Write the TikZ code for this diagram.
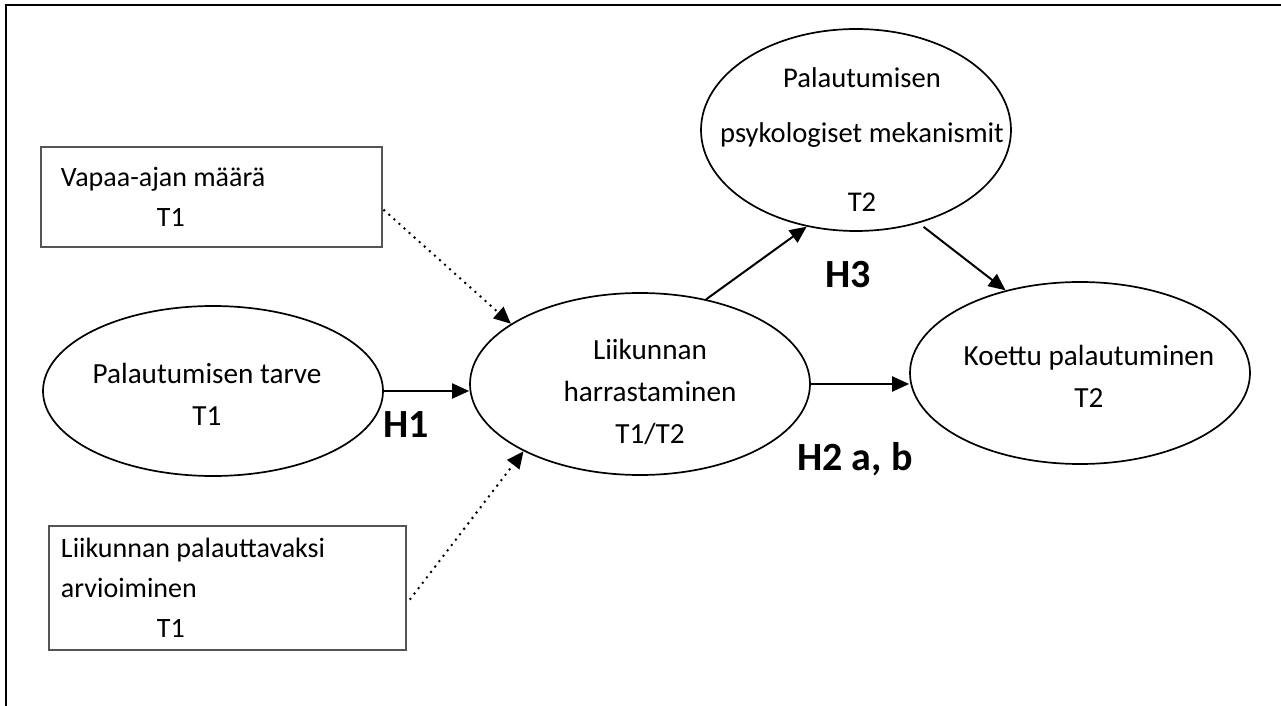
\documentclass[tikz,border=0pt]{standalone}
\usepackage{fontspec}
\setmainfont{Carlito}
\usepackage{xcolor}
\usepackage{tikz}
\usetikzlibrary{shapes.geometric, arrows.meta}
\definecolor{boxgray}{RGB}{85,85,85}

\begin{document}
\begin{tikzpicture}[x=0.5pt, y=-0.5pt,
  construct/.style={draw, ellipse, line width=0.85pt, inner sep=0pt, minimum width=170pt, minimum height=91pt},
  caption/.style={align=center, inner sep=0pt, font=\fontsize{14.6}{21}\selectfont},
  measure/.style={draw=boxgray, rectangle, line width=0.7pt, align=flush left, inner ysep=0pt, font=\fontsize{14}{20}\selectfont},
  effect/.style={-{Triangle[length=8.5pt,width=7.5pt]}, line width=1pt},
  moderator/.style={effect, line width=1.4pt, line cap=round, dash pattern=on 0pt off 3.4pt},
  hypo/.style={font=\fontsize{20}{24}\selectfont\bfseries, inner sep=0pt, anchor=base west}]
\useasboundingbox (0,0) rectangle (1281,706);
\draw[line width=1pt] (6,706) -- (6,5) -- (1281,5);

% measured variables
\node[measure, text width=150.5pt, inner xsep=10pt, minimum height=50pt] (vapaa) at (211.5,197) {Vapaa-ajan määrä\\\hspace*{48pt}T1};
\node[measure, text width=166.5pt, inner xsep=6pt, minimum height=62pt] (arvio) at (227.5,588) {Liikunnan palauttavaksi\\arvioiminen\\\hspace*{48pt}T1};

% constructs
\node[construct, minimum height=85pt, label={[caption, xshift=-3pt, yshift=-1.6pt]center:{Palautumisen tarve\\T1}}] (tarve) at (213,391) {};
\node[construct, label={[caption, xshift=5pt, yshift=-3.9pt]center:{Liikunnan\\harrastaminen\\T1/T2}}] (harr) at (640,384) {};
\node[construct, minimum width=155pt, minimum height=101pt, label={[caption, font=\fontsize{14.3}{21}\selectfont, xshift=3pt, yshift=-5pt]center:{Palautumisen\\[6.5pt]psykologiset mekanismit\\[13.5pt]T2}}] (psy) at (856,130) {};
\node[construct, label={[caption, xshift=4.5pt, yshift=-1.6pt]center:{Koettu palautuminen\\T2}}] (koettu) at (1080,373) {};

% paths
\draw[effect] (tarve.east) -- (tarve.east -| harr.west);
\draw[moderator, shorten <=1pt] (vapaa.-4) -- (harr.155);
\draw[moderator, shorten <=3pt] (arvio.-5) -- (harr.210);
\draw[effect] (harr.52) -- (psy.243);
\draw[effect, shorten <=3pt] (psy.-56) -- (koettu.132);
\draw[effect] (harr.east) -- (harr.east -| koettu.west);

\node[hypo] (h1) at (383,437) {H1};
\node[hypo] (h3) at (825,287) {H3};
\node[hypo] (h2) at (797,470) {H2 a, b};
\end{tikzpicture}
\end{document}
